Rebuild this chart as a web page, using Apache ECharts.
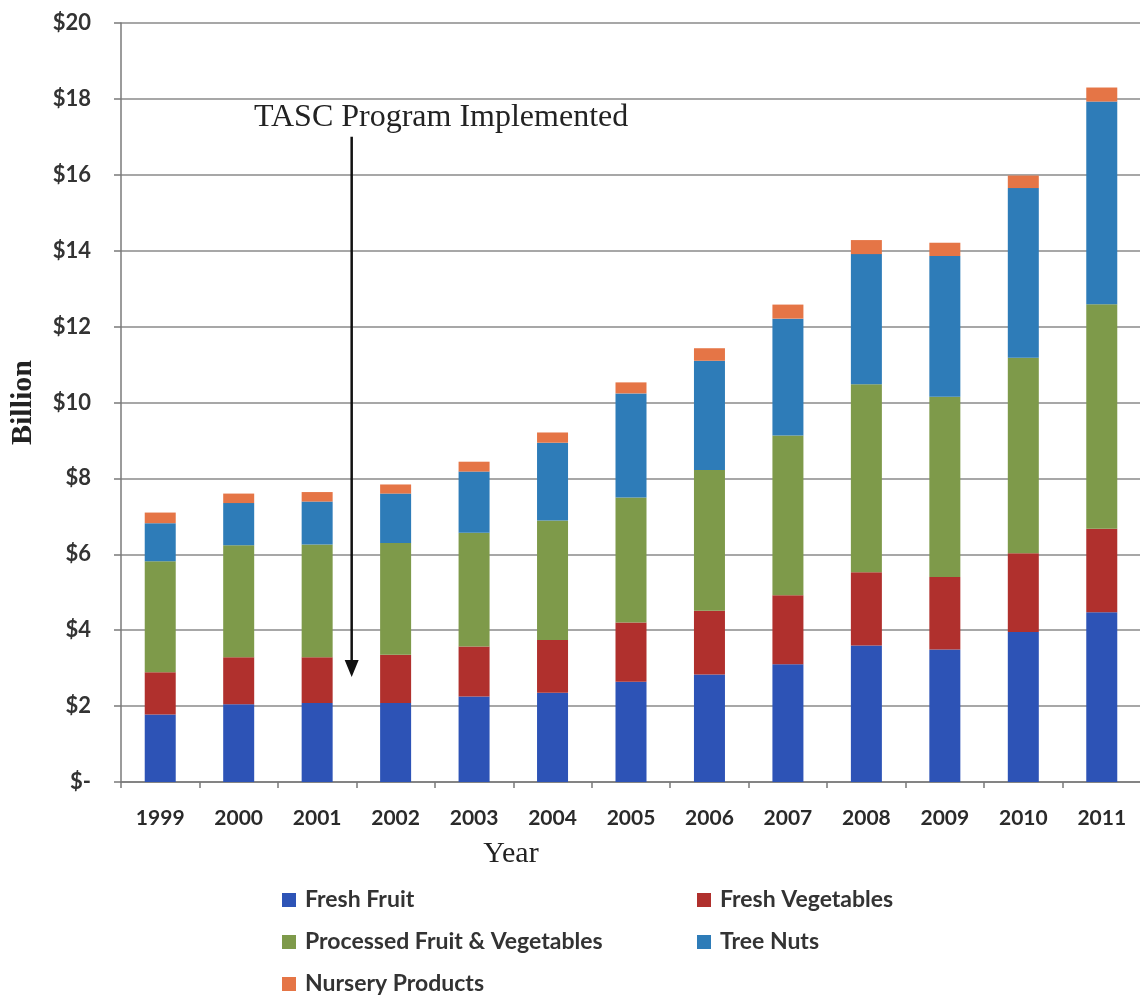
<!DOCTYPE html>
<html>
<head>
<meta charset="utf-8">
<script src="https://cdn.jsdelivr.net/npm/echarts@6/dist/echarts.min.js"></script>
<style>
html,body{margin:0;padding:0;background:#fff;}
#chart{width:1140px;height:996px;}
</style>
</head>
<body>
<div id="chart"></div>
<script>
const years = ['1999','2000','2001','2002','2003','2004','2005','2006','2007','2008','2009','2010','2011'];
const freshFruit = [1.78, 2.05, 2.08, 2.08, 2.25, 2.35, 2.64, 2.83, 3.10, 3.60, 3.49, 3.95, 4.47];
const freshVegetables = [1.11, 1.24, 1.21, 1.27, 1.32, 1.39, 1.56, 1.68, 1.82, 1.93, 1.91, 2.08, 2.20];
const processedFruitVeg = [2.93, 2.95, 2.97, 2.95, 3.00, 3.15, 3.30, 3.71, 4.21, 4.95, 4.75, 5.15, 5.92];
const treeNuts = [1.00, 1.11, 1.13, 1.30, 1.61, 2.05, 2.74, 2.88, 3.08, 3.43, 3.71, 4.47, 5.34];
const nurseryProducts = [0.28, 0.25, 0.25, 0.24, 0.26, 0.27, 0.29, 0.33, 0.37, 0.37, 0.35, 0.33, 0.37];
const yTicks = [0, 2, 4, 6, 8, 10, 12, 14, 16, 18, 20];

const seriesDefs = [
  {name: 'Fresh Fruit', data: freshFruit, color: '#2D53B6'},
  {name: 'Fresh Vegetables', data: freshVegetables, color: '#B0302D'},
  {name: 'Processed Fruit & Vegetables', data: processedFruitVeg, color: '#7E9A4A'},
  {name: 'Tree Nuts', data: treeNuts, color: '#2E7CB8'},
  {name: 'Nursery Products', data: nurseryProducts, color: '#E57546'}
];

const legendPos = [
  {left: 282, top: 887},
  {left: 697, top: 887},
  {left: 282, top: 929},
  {left: 697, top: 929},
  {left: 282, top: 971}
];

const chart = echarts.init(document.getElementById('chart'));
const option = {
  backgroundColor: '#ffffff',
  animation: false,
  grid: {left: 121, top: 23, width: 1020, height: 759, containLabel: false, outerBoundsMode: 'none'},
  xAxis: {
    type: 'category',
    data: years,
    boundaryGap: true,
    name: 'Year',
    nameLocation: 'middle',
    nameGap: 57,
    nameTextStyle: {fontFamily: 'Liberation Serif', fontSize: 30, color: '#222', padding: [0, 240, 0, 0]},
    axisLine: {show: true, lineStyle: {color: '#7a7a7a', width: 1.5}},
    axisTick: {show: true, length: 6, lineStyle: {color: '#7a7a7a', width: 1.5}},
    axisLabel: {fontFamily: 'Lato', fontWeight: 'bold', fontSize: 21, color: '#2a2a2a', margin: 26}
  },
  yAxis: {
    type: 'value',
    min: 0, max: 20, interval: 2,
    name: 'Billion',
    nameLocation: 'middle',
    nameGap: 83,
    nameRotate: 90,
    nameTextStyle: {fontFamily: 'Liberation Serif', fontWeight: 'bold', fontSize: 30, color: '#222'},
    axisLine: {show: true, lineStyle: {color: '#7a7a7a', width: 1.5}},
    axisTick: {show: true, inside: false, length: 7, lineStyle: {color: '#7a7a7a', width: 1.5}},
    axisLabel: {
      fontFamily: 'Lato', fontWeight: 'bold', fontSize: 22, color: '#333', margin: 30,
      formatter: function (v) { return v === 0 ? '$-' : '$' + v; }
    },
    splitLine: {show: true, lineStyle: {color: '#8a8a8a', width: 1.5}}
  },
  legend: seriesDefs.map(function (s, i) {
    return {
      data: [s.name],
      left: legendPos[i].left,
      top: legendPos[i].top,
      padding: 0,
      icon: 'rect',
      itemWidth: 14,
      itemHeight: 14,
      selectedMode: false,
      textStyle: {fontFamily: 'Lato', fontWeight: 'bold', fontSize: 23, color: '#333', lineHeight: 26, padding: [0, 0, 0, 4]}
    };
  }),
  series: seriesDefs.map(function (s) {
    return {
      name: s.name,
      type: 'bar',
      stack: 'total',
      barWidth: 31,
      data: s.data,
      itemStyle: {color: s.color},
      emphasis: {disabled: true}
    };
  })
};
chart.setOption(option);

// Annotation: arrow between 2001 and 2002 pointing down, with label text
const annot = {text: 'TASC Program Implemented', fromY: 17.0, toY: 2.77, textY: 17.5, frac: 0.44, textFrac: 1.58};
const p1 = chart.convertToPixel({gridIndex: 0}, ['2001', annot.fromY]);
const p2 = chart.convertToPixel({gridIndex: 0}, ['2002', annot.toY]);
const step = p2[0] - p1[0];
const ax = p1[0] + step * annot.frac;
const pt = chart.convertToPixel({gridIndex: 0}, ['2002', annot.textY]);
const tx = p1[0] + step * annot.textFrac;
const headLen = 17, headW = 7;
chart.setOption({
  graphic: [
    {
      type: 'line',
      shape: {x1: ax, y1: p1[1], x2: ax, y2: p2[1] - headLen + 2},
      style: {stroke: '#111', lineWidth: 2.5}
    },
    {
      type: 'polygon',
      shape: {points: [[ax - headW, p2[1] - headLen], [ax + headW, p2[1] - headLen], [ax, p2[1]]]},
      style: {fill: '#111'}
    },
    {
      type: 'text',
      x: tx, y: pt[1],
      style: {text: annot.text, fontFamily: 'Liberation Serif', fontSize: 32, fill: '#222', align: 'center', verticalAlign: 'middle'}
    }
  ]
});
</script>
</body>
</html>
